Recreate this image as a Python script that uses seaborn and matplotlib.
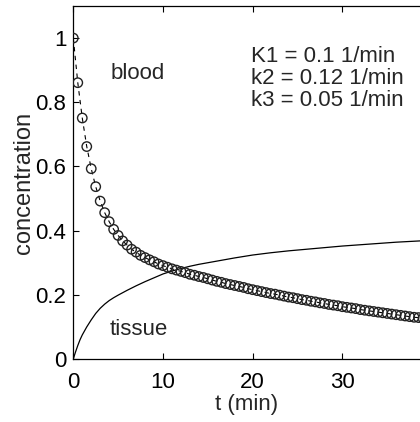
import matplotlib
matplotlib.use("Agg")
import matplotlib.pyplot as plt
import seaborn as sns
import pandas as pd
import numpy as np

# ---- data ----
blood_t = [0, 0.5, 1, 1.5, 2, 2.5, 3, 3.5, 4, 4.5, 5, 5.5, 6, 6.5, 7, 7.5, 8, 8.5, 9, 9.5,
           10, 10.5, 11, 11.5, 12, 12.5, 13, 13.5, 14, 14.5, 15, 15.5, 16, 16.5, 17, 17.5,
           18, 18.5, 19, 19.5, 20, 20.5, 21, 21.5, 22, 22.5, 23, 23.5, 24, 24.5, 25, 25.5,
           26, 26.5, 27, 27.5, 28, 28.5, 29, 29.5, 30, 30.5, 31, 31.5, 32, 32.5, 33, 33.5,
           34, 34.5, 35, 35.5, 36, 36.5, 37, 37.5, 38, 38.5, 39]
blood_c = [1.000, 0.861, 0.751, 0.662, 0.593, 0.537, 0.492, 0.456, 0.428, 0.404, 0.385, 0.368,
           0.355, 0.342, 0.333, 0.323, 0.316, 0.309, 0.303, 0.296, 0.291, 0.286, 0.281, 0.277,
           0.273, 0.269, 0.264, 0.261, 0.257, 0.254, 0.250, 0.246, 0.242, 0.239, 0.235, 0.232,
           0.229, 0.226, 0.223, 0.219, 0.216, 0.213, 0.210, 0.207, 0.204, 0.202, 0.199, 0.196,
           0.193, 0.191, 0.188, 0.185, 0.183, 0.180, 0.178, 0.175, 0.173, 0.170, 0.168, 0.166,
           0.163, 0.161, 0.159, 0.157, 0.154, 0.152, 0.150, 0.148, 0.146, 0.144, 0.142, 0.140,
           0.138, 0.136, 0.134, 0.132, 0.130, 0.129, 0.127]

tissue_t = [0, 0.1, 0.25, 0.5, 0.75, 1, 1.5, 2, 2.5, 3, 3.5, 4, 4.5, 5, 6, 7, 8, 9, 10, 11,
            12, 13, 14, 15, 16, 18, 20, 22, 24, 26, 28, 30, 32, 34, 36, 38, 40]
tissue_c = [0, 0.009, 0.022, 0.042, 0.060, 0.075, 0.100, 0.122, 0.142, 0.158, 0.171, 0.182,
            0.191, 0.199, 0.214, 0.228, 0.241, 0.253, 0.265, 0.274, 0.282, 0.289, 0.295,
            0.300, 0.305, 0.315, 0.324, 0.331, 0.337, 0.342, 0.347, 0.352, 0.356, 0.360,
            0.364, 0.367, 0.370]

ytick_vals = [0, 0.2, 0.4, 0.6, 0.8, 1]
ytick_labels = ["0", "0.2", "0.4", "0.6", "0.8", "1"]
xtick_vals = [0, 10, 20, 30]
xtick_labels = ["0", "10", "20", "30"]
param_lines = ["K1 = 0.1 1/min", "k2 = 0.12 1/min", "k3 = 0.05 1/min"]

sns.set_style("white")
plt.rcParams["font.family"] = ["Liberation Sans", "DejaVu Sans"]

fig = plt.figure(figsize=(4.20, 4.22), dpi=100)
ax = fig.add_axes([73.3 / 420, 1 - 359 / 422, 1 - 73.3 / 420, (359 - 6) / 422])

blood = pd.DataFrame({"t": blood_t, "c": blood_c})
tissue = pd.DataFrame({"t": tissue_t, "c": tissue_c})

sns.lineplot(data=tissue, x="t", y="c", ax=ax, color="black", linewidth=0.9)
sns.lineplot(data=blood, x="t", y="c", ax=ax, color="black", linewidth=0.8,
             linestyle=(0, (4, 4)))
sns.scatterplot(data=blood, x="t", y="c", ax=ax, marker="o", s=46,
                facecolor="none", edgecolor="#222222", linewidth=1.0, zorder=3)

ax.set_xlim(0, 38.66)
ax.set_ylim(0, 1.10)
ax.set_xticks(xtick_vals)
ax.set_xticklabels(xtick_labels)
ax.set_yticks(ytick_vals)
ax.set_yticklabels(ytick_labels)

for side in ["left", "bottom", "top"]:
    ax.spines[side].set_visible(True)
    ax.spines[side].set_color("black")
    ax.spines[side].set_linewidth(0.9)
ax.spines["right"].set_visible(False)

ax.tick_params(axis="both", direction="in", length=4, width=0.8, labelsize=16,
               colors="black")
ax.tick_params(axis="x", top=True, bottom=True, pad=9)
ax.tick_params(axis="y", left=True, right=False, pad=5)

ax.set_xlabel("t (min)", fontsize=16, labelpad=1)
ax.set_ylabel("concentration", fontsize=17, labelpad=0)

ax.text(4.1, 0.871, "blood", fontsize=16, ha="left", va="baseline")
ax.text(4.1, 0.075, "tissue", fontsize=16, ha="left", va="baseline")
for yv, line in zip([0.925, 0.857, 0.788], param_lines):
    ax.text(19.8, yv, line, fontsize=16, ha="left", va="baseline")

fig.savefig("out.png", dpi=100)
